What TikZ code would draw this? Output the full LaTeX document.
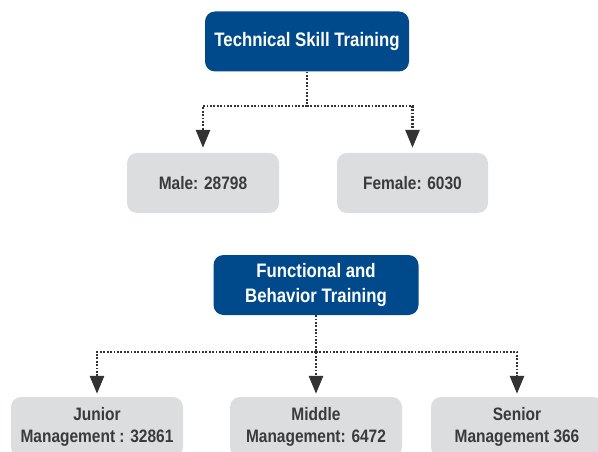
\documentclass[tikz,border=0pt]{standalone}
\usepackage{fontspec}
\setmainfont{Liberation Sans}[FakeStretch=0.86]
\usetikzlibrary{arrows.meta}
\definecolor{trainblue}{RGB}{0,74,140}
\definecolor{groupgray}{RGB}{220,221,222}
\definecolor{inkgray}{RGB}{58,58,60}
\definecolor{linkgray}{RGB}{51,51,51}
\tikzset{
	mainbox/.style={fill=trainblue, text=white, rounded corners=10pt, align=center, inner sep=0pt, minimum height=60pt, font=\fontsize{19.5}{25}\selectfont\bfseries},
	groupbox/.style={fill=groupgray, text=inkgray, rounded corners=10pt, align=center, inner sep=0pt, minimum height=60pt, font=\fontsize{18}{22}\selectfont\bfseries},
	link/.style={draw=linkgray, line width=2.8pt, dash pattern=on 1.8pt off 1.6pt},
	linkarrow/.style={link, -{Triangle[width=14pt,length=18pt,fill=linkgray]}}
}
\begin{document}
\begin{tikzpicture}[x=1pt,y=-1pt]
				\useasboundingbox (0,0) rectangle (598,452);
				\clip (0,0) rectangle (598,452);
				
				\node[mainbox, minimum width=204pt] (tech) at (307,41.5) {Technical Skill Training};
				\node[groupbox, minimum width=152pt] (male) at (203,183) {Male: 28798};
				\node[groupbox, minimum width=151pt] (female) at (412.5,183) {Female: 6030};
				
				\coordinate (tsplit) at (307,106);
				\draw[link] (tech.south) -- (tsplit);
				\draw[linkarrow] (tsplit) -| ([yshift=5pt]male.north);
				\draw[linkarrow] (tsplit) -| ([yshift=5pt]female.north);
				
				\node[mainbox, minimum width=205pt] (func) at (316,285) {Functional and\\Behavior Training};
				\node[groupbox, minimum width=172pt] (junior) at (97,427) {Junior\\Management : 32861};
				\node[groupbox, minimum width=172pt] (middle) at (316,427) {Middle\\Management: 6472};
				\node[groupbox, minimum width=172pt] (senior) at (517,427) {Senior\\Management 366};
				
				\coordinate (fsplit) at (316,352);
				\draw[linkarrow] (func.south) -- ([yshift=3pt]middle.north);
				\draw[linkarrow] (fsplit) -| ([yshift=3pt]junior.north);
				\draw[linkarrow] (fsplit) -| ([yshift=3pt]senior.north);
\end{tikzpicture}
\end{document}
